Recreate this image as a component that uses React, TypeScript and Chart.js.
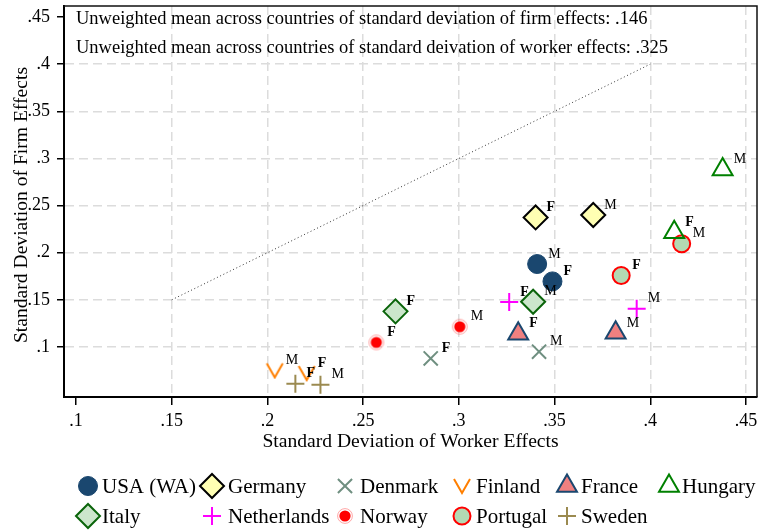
import React, { useEffect, useRef } from 'react';
import { Chart, registerables } from 'chart.js';
import { drawPoint } from 'chart.js/helpers';

Chart.register(...registerables);

// ---------- data ----------
const COUNTRIES = ['USA (WA)', 'Germany', 'Denmark', 'Finland', 'France', 'Hungary', 'Italy', 'Netherlands', 'Norway', 'Portugal', 'Sweden'];
const GROUP_LABELS = ['F', 'M'];
const WORKER_SD_F = [0.3489, 0.3401, 0.2853, 0.2205, 0.331, 0.4125, 0.2669, 0.3263, 0.2569, 0.3848, 0.2146];
const FIRM_SD_F = [0.1696, 0.2374, 0.0879, 0.0724, 0.1141, 0.2218, 0.1378, 0.1477, 0.1049, 0.1759, 0.0611];
const WORKER_SD_M = [0.3409, 0.3702, 0.3419, 0.2038, 0.3819, 0.4378, 0.3388, 0.3929, 0.3005, 0.4164, 0.2277];
const FIRM_SD_M = [0.188, 0.24, 0.095, 0.0752, 0.115, 0.2882, 0.148, 0.1406, 0.1215, 0.2095, 0.06];
const X_TICKS = [0.1, 0.15, 0.2, 0.25, 0.3, 0.35, 0.4, 0.45];
const X_TICK_LABELS = ['.1', '.15', '.2', '.25', '.3', '.35', '.4', '.45'];
const Y_TICKS = [0.1, 0.15, 0.2, 0.25, 0.3, 0.35, 0.4, 0.45];
const Y_TICK_LABELS = ['.1', '.15', '.2', '.25', '.3', '.35', '.4', '.45'];
const DIAGONAL = [0.15, 0.4];
const NOTE_LINES = [
  'Unweighted mean across countries of standard deviation of firm effects: .146',
  'Unweighted mean across countries of standard deivation of worker effects: .325',
];
const X_TITLE = 'Standard Deviation of Worker Effects';
const Y_TITLE = 'Standard Deviation of Firm Effects';

// ---------- styles ----------
const FONT = '"Liberation Serif", "DejaVu Serif", serif';

function makeV(color: string) {
  const c = document.createElement('canvas');
  c.width = 20; c.height = 18;
  const g = c.getContext('2d')!;
  g.strokeStyle = color; g.lineWidth = 2; g.lineJoin = 'miter';
  g.beginPath(); g.moveTo(2, 2); g.lineTo(10, 16); g.lineTo(18, 2); g.stroke();
  return c;
}
function makeDot(color: string) {
  const c = document.createElement('canvas');
  c.width = 18; c.height = 18;
  const g = c.getContext('2d')!;
  g.fillStyle = color;
  g.beginPath(); g.arc(9, 9, 5.6, 0, Math.PI * 2); g.fill();
  g.strokeStyle = 'rgba(255,60,60,0.45)'; g.lineWidth = 1;
  g.beginPath(); g.arc(9, 9, 7.4, 0, Math.PI * 2); g.stroke();
  return c;
}

type MStyle = { style: any; radius: number; fill: string; border: string; bw: number };

function markerStyles(): MStyle[] {
  return [
    { style: 'circle', radius: 9.5, fill: '#1a476f', border: '#1a476f', bw: 1 },
    { style: 'rectRot', radius: 12, fill: '#ffffb3', border: '#000000', bw: 2 },
    { style: 'crossRot', radius: 10, fill: 'rgba(0,0,0,0)', border: '#6f8f80', bw: 2 },
    { style: makeV('#ff7f00'), radius: 9, fill: 'rgba(0,0,0,0)', border: '#ff7f00', bw: 2 },
    { style: 'triangle', radius: 11.5, fill: '#f08080', border: '#1a476f', bw: 2 },
    { style: 'triangle', radius: 11.5, fill: 'rgba(0,0,0,0)', border: '#008000', bw: 2 },
    { style: 'rectRot', radius: 12, fill: '#cce6cc', border: '#0a640a', bw: 2 },
    { style: 'cross', radius: 9, fill: 'rgba(0,0,0,0)', border: '#ff00ff', bw: 2 },
    { style: makeDot('#ff0000'), radius: 6, fill: '#ff0000', border: '#ff0000', bw: 1 },
    { style: 'circle', radius: 8.5, fill: '#b3d9b3', border: '#ff0000', bw: 2 },
    { style: 'cross', radius: 9, fill: 'rgba(0,0,0,0)', border: '#9b8a50', bw: 2 },
  ];
}

// legend layout (columns/rows)
const LEG_MARK_X = [88, 212, 345, 462, 567, 669];
const LEG_TEXT_X = [102, 228, 360, 476, 581, 682];
const LEG_ROW_Y = [486, 516];

export default function App() {
  const ref = useRef<HTMLCanvasElement | null>(null);

  useEffect(() => {
    document.body.style.margin = '0';
    const canvas = ref.current!;
    const styles = markerStyles();

    const countrySets = COUNTRIES.map((name, i) => ({
      type: 'scatter' as const,
      label: name,
      data: [
        { x: WORKER_SD_F[i], y: FIRM_SD_F[i] },
        { x: WORKER_SD_M[i], y: FIRM_SD_M[i] },
      ],
      pointStyle: styles[i].style,
      pointRadius: styles[i].radius,
      backgroundColor: styles[i].fill,
      borderColor: styles[i].border,
      borderWidth: styles[i].bw,
      showLine: false,
    }));

    const diag = {
      type: 'line' as const,
      label: 'diag',
      data: DIAGONAL.map((v) => ({ x: v, y: v })),
      borderColor: '#333333',
      borderWidth: 1,
      borderDash: [1, 2.6],
      pointRadius: 0,
      fill: false,
      showLine: true,
    };

    const decor = {
      id: 'decor',
      afterDatasetsDraw(chart: any) {
        const ctx = chart.ctx as CanvasRenderingContext2D;
        const ca = chart.chartArea;
        ctx.save();
        // point labels
        ctx.fillStyle = '#000';
        ctx.textAlign = 'left';
        ctx.textBaseline = 'middle';
        chart.data.datasets.forEach((ds: any, di: number) => {
          if (ds.label === 'diag') return;
          const meta = chart.getDatasetMeta(di);
          meta.data.forEach((el: any, pi: number) => {
            const lab = GROUP_LABELS[pi];
            ctx.font = (lab === 'F' ? 'bold ' : '') + '14px ' + FONT;
            ctx.fillText(lab, el.x + 11, el.y - 10);
          });
        });
        // notes
        ctx.font = '18.5px ' + FONT;
        ctx.textBaseline = 'alphabetic';
        ctx.fillText(NOTE_LINES[0], ca.left + 12, 24);
        ctx.fillText(NOTE_LINES[1], ca.left + 12, 53);
        // top/right frame
        ctx.strokeStyle = '#111';
        ctx.lineWidth = 1.5;
        ctx.beginPath();
        ctx.moveTo(ca.left, ca.top);
        ctx.lineTo(ca.right, ca.top);
        ctx.lineTo(ca.right, ca.bottom);
        ctx.stroke();
        // axis titles
        ctx.font = '19.6px ' + FONT;
        ctx.textAlign = 'center';
        ctx.fillText(X_TITLE, (ca.left + ca.right) / 2, 447);
        ctx.save();
        ctx.translate(27, 205);
        ctx.rotate(-Math.PI / 2);
        ctx.fillText(Y_TITLE, 0, 0);
        ctx.restore();
        // legend
        ctx.font = '21px ' + FONT;
        ctx.textAlign = 'left';
        COUNTRIES.forEach((name, i) => {
          const row = i < 6 ? 0 : 1;
          const col = i < 6 ? i : i - 6;
          const mx = LEG_MARK_X[col];
          const my = LEG_ROW_Y[row];
          const s = styles[i];
          ctx.save();
          ctx.fillStyle = s.fill;
          ctx.strokeStyle = s.border;
          ctx.lineWidth = s.bw;
          drawPoint(ctx, { pointStyle: s.style, radius: s.radius, borderWidth: s.bw, rotation: 0 } as any, mx, my);
          ctx.restore();
          ctx.fillStyle = '#000';
          ctx.fillText(name, LEG_TEXT_X[col], my + 7);
        });
        ctx.restore();
      },
    };

    const gridColor = (hide: number) => (c: any) =>
      c.tick && Math.abs(c.tick.value - hide) < 1e-9 ? 'rgba(0,0,0,0)' : '#dcdcdc';

    const chart = new Chart(canvas, {
      type: 'scatter',
      data: { datasets: [diag as any, ...countrySets] },
      options: {
        responsive: false,
        animation: false,
        devicePixelRatio: 1,
        events: [],
        layout: { autoPadding: false, padding: { top: 6, right: 2, left: 0, bottom: 0 } },
        plugins: { legend: { display: false }, tooltip: { enabled: false } },
        scales: {
          x: {
            type: 'linear',
            min: 0.09373,
            max: 0.45575,
            afterBuildTicks: (scale: any) => { scale.ticks = X_TICKS.map((v) => ({ value: v })); },
            afterFit: (scale: any) => {
              scale.height = 134;
              scale.paddingLeft = 0; scale.paddingRight = 0; scale.paddingTop = 0; scale.paddingBottom = 0;
            },
            ticks: {
              callback: (_v: any, i: number) => X_TICK_LABELS[i],
              font: { family: FONT, size: 18 },
              color: '#000',
              padding: 5,
              maxRotation: 0,
              autoSkip: false,
            },
            grid: {
              color: gridColor(0.1),
              lineWidth: 1.5,
              tickColor: '#000',
              tickLength: 8,
              tickWidth: 1.5,
            },
            border: { display: true, color: '#000', width: 2, dash: [9, 5] },
          },
          y: {
            type: 'linear',
            min: 0.04697,
            max: 0.46167,
            afterBuildTicks: (scale: any) => { scale.ticks = Y_TICKS.map((v) => ({ value: v })); },
            afterFit: (scale: any) => {
              scale.width = 64;
              scale.paddingLeft = 0; scale.paddingRight = 0; scale.paddingTop = 0; scale.paddingBottom = 0;
            },
            ticks: {
              callback: (_v: any, i: number) => Y_TICK_LABELS[i],
              font: { family: FONT, size: 18 },
              color: '#000',
              padding: 7,
              autoSkip: false,
            },
            grid: {
              color: gridColor(0.45),
              lineWidth: 1.5,
              tickColor: '#000',
              tickLength: 7,
              tickWidth: 1.5,
            },
            border: { display: true, color: '#000', width: 2, dash: [9, 5] },
          },
        },
      },
      plugins: [decor],
    });

    return () => chart.destroy();
  }, []);

  return <canvas ref={ref} width={759} height={531} style={{ display: 'block' }} />;
}
